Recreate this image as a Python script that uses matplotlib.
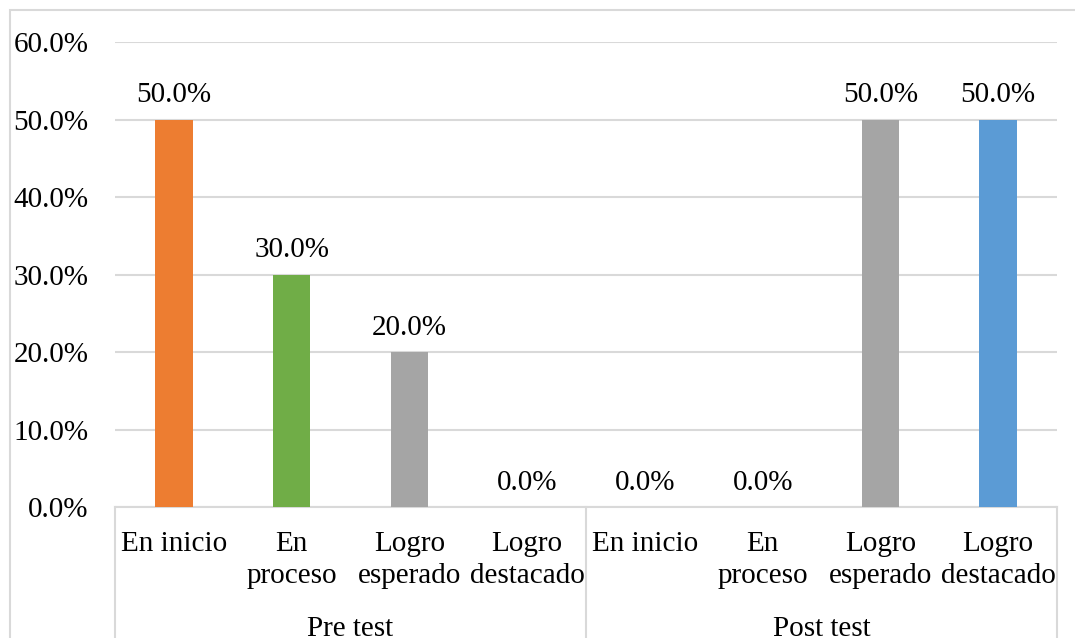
"""Bar chart: nivel de logro, pre test vs post test."""

import matplotlib
matplotlib.use("Agg")
import matplotlib.pyplot as plt
import matplotlib.transforms as mtransforms
from matplotlib.patches import Rectangle
from matplotlib.ticker import FuncFormatter

plt.rcParams["font.family"] = ["Liberation Serif", "DejaVu Serif"]

# data
groups = ["Pre test", "Post test"]
levels = ["En inicio", "En\nproceso", "Logro\nesperado", "Logro\ndestacado"]
pre_values = [0.50, 0.30, 0.20, 0.0]
post_values = [0.0, 0.0, 0.50, 0.50]
level_colors = ["#ED7D31", "#70AD47", "#A5A5A5", "#5B9BD5"]
y_ticks = [0.0, 0.1, 0.2, 0.3, 0.4, 0.5, 0.6]

GRID = "#D9D9D9"
FS = 21

fig = plt.figure(figsize=(10.75, 6.38), dpi=100)
ax = fig.add_axes([0.107, 0.2053, 0.8763, 0.7287])

# outer chart border (cut off on the right and bottom as in the original)
top = 1 - 10 / 638
fig.patches.append(Rectangle((10 / 1075, -0.2), 1.2, top + 0.2,
                             transform=fig.transFigure, fill=False,
                             edgecolor=GRID, linewidth=1.5, zorder=0))

values = pre_values + post_values
colors = level_colors * len(groups)
xs = list(range(len(values)))
ax.bar(xs, values, width=0.32, color=colors, zorder=3)

for x, v in zip(xs, values):
    ax.annotate(f"{v * 100:.1f}%", (x, v), xytext=(0, 8),
                textcoords="offset points", ha="center", va="bottom",
                fontsize=FS)

ax.set_xlim(-0.5, len(values) - 0.5)
ax.set_ylim(0, 0.6)
ax.set_yticks(y_ticks)
ax.yaxis.set_major_formatter(FuncFormatter(lambda v, _: f"{v * 100:.1f}%"))
ax.tick_params(axis="y", length=0, pad=19, labelsize=FS)
ax.set_xticks([])
ax.yaxis.grid(True, color=GRID, linewidth=1.5, zorder=0)
for side in ["top", "right", "left"]:
    ax.spines[side].set_visible(False)
ax.spines["bottom"].set_color(GRID)
ax.spines["bottom"].set_linewidth(1.5)

# multi-level category axis
trans = mtransforms.blended_transform_factory(ax.transData, ax.transAxes)
for x, lab in zip(xs, levels * len(groups)):
    ax.text(x, -0.051, lab, transform=trans, ha="center", va="top",
            fontsize=FS, linespacing=1.33)
n = len(levels)
for gi, g in enumerate(groups):
    center = gi * n + (n - 1) / 2
    ax.text(center, -0.235, g, transform=trans, ha="center", va="top",
            fontsize=FS)
for sep in range(len(groups) + 1):
    xsep = sep * n - 0.5
    ax.plot([xsep, xsep], [0, -0.5], transform=trans, color=GRID,
            linewidth=1.5, clip_on=False)

fig.savefig("out.png", dpi=100)
